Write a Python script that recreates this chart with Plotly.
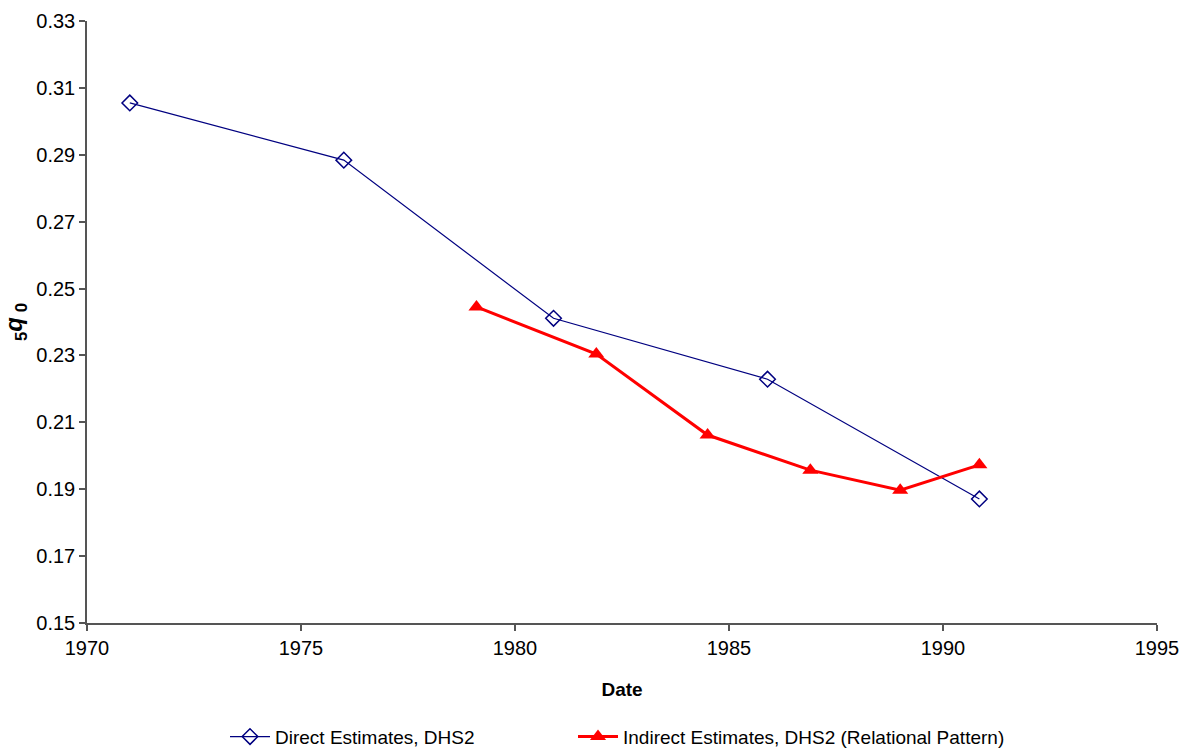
import plotly.graph_objects as go

direct_x = [1971.0, 1976.0, 1980.9, 1985.9, 1990.85]
direct_y = [0.3055, 0.2884, 0.2411, 0.2229, 0.1871]
indirect_x = [1979.1, 1981.9, 1984.5, 1986.9, 1989.0, 1990.85]
indirect_y = [0.2445, 0.2304, 0.2062, 0.1957, 0.1897, 0.1973]

x_ticks = [1970, 1975, 1980, 1985, 1990, 1995]
y_ticks = [0.15, 0.17, 0.19, 0.21, 0.23, 0.25, 0.27, 0.29, 0.31, 0.33]

FONT = "Liberation Sans, Arial, sans-serif"

fig = go.Figure()
fig.add_trace(go.Scatter(
    x=direct_x, y=direct_y, mode="lines+markers",
    name="Direct Estimates, DHS2",
    line=dict(color="#000080", width=1.2),
    marker=dict(symbol="diamond-open", size=12, color="#000080", line=dict(width=1.5)),
    legend="legend",
))
fig.add_trace(go.Scatter(
    x=indirect_x, y=indirect_y, mode="lines+markers",
    name="Indirect Estimates, DHS2 (Relational Pattern)",
    line=dict(color="#ff0000", width=3),
    marker=dict(symbol="triangle-up", size=14, color="#ff0000"),
    legend="legend2",
))

axis_common = dict(
    showgrid=False, zeroline=False, showline=True, linecolor="#555555", linewidth=1.5,
    ticks="outside", ticklen=6, tickcolor="#555555", tickwidth=1.5, automargin=False,
    tickfont=dict(family=FONT, size=20, color="#000000"),
)

legend_common = dict(
    orientation="h", xref="container", yref="container", y=0.019, yanchor="middle",
    xanchor="left", font=dict(family=FONT, size=19, color="#000000"),
    itemwidth=40, bgcolor="rgba(0,0,0,0)",
)

fig.update_layout(
    width=1194, height=751,
    paper_bgcolor="white", plot_bgcolor="white",
    margin=dict(l=87, r=37, t=21, b=128, autoexpand=False),
    font=dict(family=FONT, color="#000000"),
    xaxis=dict(range=[1970, 1995], tickvals=x_ticks, ticktext=[str(v) for v in x_ticks],
               title=dict(text="<b>Date</b>", font=dict(size=19), standoff=25), **axis_common),
    yaxis=dict(range=[0.15, 0.33], tickvals=y_ticks, ticktext=[f"{v:.2f}" for v in y_ticks],
               title=dict(text="<b><sub>5</sub><i>q</i><sub> 0</sub></b>", font=dict(size=24), standoff=8),
               **axis_common),
    legend=dict(x=225 / 1194, **legend_common),
    legend2=dict(x=573 / 1194, **legend_common),
    showlegend=True,
)

fig.write_html("out.html", config={"displayModeBar": False},
               post_script="document.body.style.margin='0';")
